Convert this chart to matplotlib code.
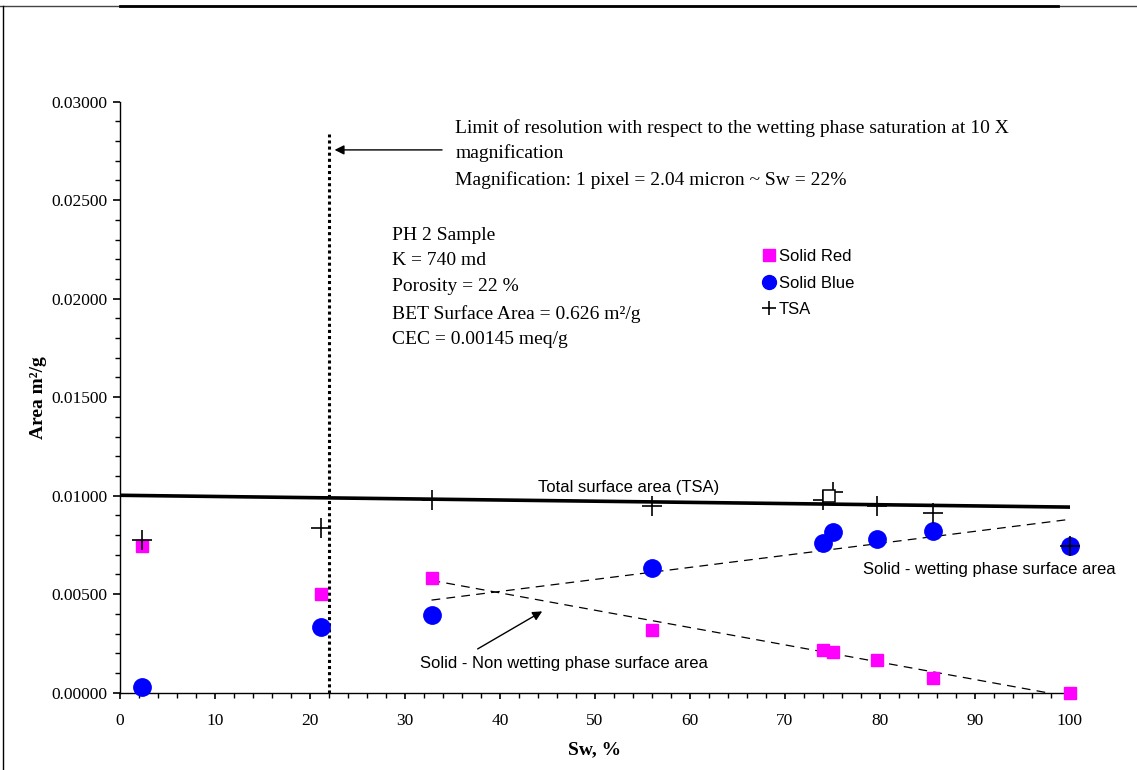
import numpy as np
import matplotlib.pyplot as plt
from matplotlib.ticker import MultipleLocator, FormatStrFormatter
from matplotlib.lines import Line2D

# data
sw = [2.3, 21.2, 32.8, 56.0, 74.0, 75.1, 79.7, 85.6, 100.0]
solid_red = [0.00745, 0.00501, 0.00584, 0.00318, 0.00217, 0.00207, 0.00166, 0.00076, 0.0]
solid_blue = [0.00030, 0.00332, 0.00394, 0.00632, 0.00762, 0.00815, 0.00780, 0.00820, 0.00745]
tsa = [0.00775, 0.00835, 0.00978, 0.00947, 0.00978, 0.01020, 0.00950, 0.00910, 0.00745]
extra_x = [74.6]
extra_y = [0.01000]

tsa_fit_x = [0, 100]
tsa_fit_y = [0.01002, 0.00942]
wet_fit_x = [32.8, 100]
wet_fit_y = [0.00470, 0.00880]
nonwet_fit_x = [32.8, 97.6]
nonwet_fit_y = [0.00570, 0.0]

limit_lines = ["Limit of resolution with respect to the wetting phase saturation at 10 X",
               "magnification",
               "Magnification: 1 pixel = 2.04 micron ~ Sw = 22%"]
limit_y = [0.02866, 0.02740, 0.02604]
sample_lines = ["PH 2 Sample", "K = 740 md", "Porosity = 22 %",
                "BET Surface Area = 0.626 m\u00b2/g", "CEC = 0.00145 meq/g"]
sample_y = [0.02323, 0.02196, 0.02061, 0.01920, 0.01795]

serif = "Liberation Serif"
sans = "Liberation Sans"

fig = plt.figure(figsize=(11.37, 7.70), dpi=100)
ax = fig.add_axes([0.1055, 0.1004, 0.8355, 0.7676])

ax.plot(tsa_fit_x, tsa_fit_y, color="black", lw=2.6, zorder=2)
ax.plot(wet_fit_x, wet_fit_y, color="black", lw=0.9, ls=(0, (7, 5)), zorder=2)
ax.plot(nonwet_fit_x, nonwet_fit_y, color="black", lw=0.9, ls=(0, (7, 5)), zorder=2)
ax.axvline(22, ymin=0, ymax=0.02836 / 0.03, color="black", lw=2.2, ls=(0, (1, 1)), zorder=2)

ax.plot(sw, solid_red, "s", color="#ff00ff", ms=9.3, mec="#ff00ff", clip_on=False, zorder=3)
ax.plot(sw, solid_blue, "o", color="#0000ff", ms=12.5, mec="#0000ff", clip_on=False, zorder=3)
ax.plot(sw, tsa, "+", color="black", ms=14, mew=1.2, clip_on=False, zorder=4)
ax.plot(extra_x, extra_y, "s", mfc="white", mec="black", ms=8, mew=1.1, zorder=4)

ax.set_xlim(0, 100)
ax.set_ylim(0, 0.03)
ax.xaxis.set_major_locator(MultipleLocator(10))
ax.xaxis.set_minor_locator(MultipleLocator(2))
ax.yaxis.set_major_locator(MultipleLocator(0.005))
ax.yaxis.set_minor_locator(MultipleLocator(0.001))
ax.yaxis.set_major_formatter(FormatStrFormatter("%.5f"))
for s in ["top", "right"]:
    ax.spines[s].set_visible(False)
for s in ["left", "bottom"]:
    ax.spines[s].set_linewidth(1.0)
ax.tick_params(which="major", direction="out", length=5, width=1.2, labelsize=12.5)
ax.tick_params(which="minor", direction="out", length=3.5, width=1.0)
ax.tick_params(axis="y", which="major", pad=4)
ax.tick_params(axis="x", which="major", length=4, pad=10.5)
for lab in ax.get_xticklabels() + ax.get_yticklabels():
    lab.set_fontfamily(serif)

ax.set_xlabel("Sw, %", fontfamily=serif, fontweight="bold", fontsize=14, labelpad=9)
ax.set_ylabel("Area m\u00b2/g", fontfamily=serif, fontweight="bold", fontsize=14, labelpad=3)

for line, yy in zip(limit_lines, limit_y):
    ax.text(35.3, yy, line, fontfamily=serif, fontsize=14, va="center", ha="left")
ax.annotate("", xy=(22.3, 0.02755), xytext=(34.2, 0.02755),
            arrowprops=dict(arrowstyle="-|>", color="black", lw=1.0, mutation_scale=14))
for line, yy in zip(sample_lines, sample_y):
    ax.text(28.6, yy, line, fontfamily=serif, fontsize=14, va="center", ha="left")

ax.text(53.5, 0.01044, "Total surface area (TSA)", fontfamily=sans, fontsize=12, ha="center", va="center")
ax.text(78.2, 0.00623, "Solid - wetting phase surface area", fontfamily=sans, fontsize=12, ha="left", va="center")
ax.text(31.6, 0.00150, "Solid - Non wetting phase surface area", fontfamily=sans, fontsize=12, ha="left", va="center")
ax.annotate("", xy=(44.7, 0.0042), xytext=(37.4, 0.00215),
            arrowprops=dict(arrowstyle="-|>", color="black", lw=1.0, mutation_scale=14))

handles = [Line2D([], [], ls="", marker="s", color="#ff00ff", ms=8),
           Line2D([], [], ls="", marker="o", color="#0000ff", ms=10),
           Line2D([], [], ls="", marker="+", color="black", ms=10, mew=1.2)]
ax.legend(handles, ["Solid Red", "Solid Blue", "TSA"], loc="upper left", bbox_to_anchor=(0.6705, 0.762),
          frameon=False, prop={"family": sans, "size": 12}, handlelength=0.6, handletextpad=0.3,
          labelspacing=0.7, borderaxespad=0)

# frame lines of the sheet
fig.add_artist(Line2D([0, 1], [1 - 6 / 770, 1 - 6 / 770], color="#444444", lw=1.0))
fig.add_artist(Line2D([120 / 1137, 1058 / 1137], [1 - 6 / 770, 1 - 6 / 770], color="black", lw=2.0))
fig.add_artist(Line2D([3 / 1137, 3 / 1137], [0, 1 - 6 / 770], color="black", lw=1.0))

fig.savefig("out.png", dpi=100)
